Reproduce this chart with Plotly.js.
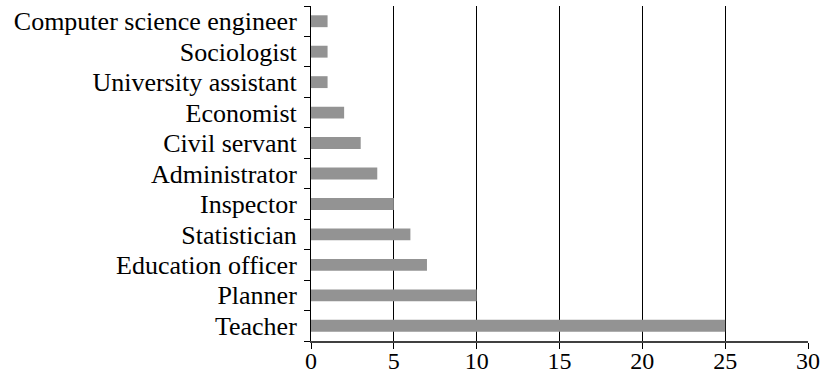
<!DOCTYPE html>
<html><head><meta charset="utf-8">
<script src="https://cdn.plot.ly/plotly-3.0.1.min.js"></script>
<style>html,body{margin:0;padding:0;background:#fff;}#chart{width:828px;height:376px;}</style>
</head><body><div id="chart"></div>
<script>
const categories = ["Computer science engineer","Sociologist","University assistant","Economist","Civil servant","Administrator","Inspector","Statistician","Education officer","Planner","Teacher"];
const counts = [1,1,1,2,3,4,5,6,7,10,25];
const xTicks = [0,5,10,15,20,25,30];

const trace = {
  type: 'bar', orientation: 'h',
  x: counts, y: categories,
  marker: {color: '#939393', line: {width: 0}},
  hoverinfo: 'none'
};
const layout = {
  width: 828, height: 376,
  margin: {l: 311, r: 20, t: 6, b: 35},
  paper_bgcolor: '#fff', plot_bgcolor: '#fff',
  font: {family: 'Liberation Serif', size: 26, color: '#000'},
  bargap: 0.61,
  showlegend: false,
  xaxis: {
    range: [0, 30], tickmode: 'array', tickvals: xTicks, ticktext: xTicks.map(String),
    tickfont: {family: 'Liberation Serif', size: 24, color: '#000'},
    showgrid: true, gridcolor: '#000', gridwidth: 1,
    showline: true, linecolor: '#404040', linewidth: 1.5,
    ticks: 'outside', ticklen: 6, tickcolor: '#000', tickwidth: 1,
    ticklabelstandoff: -8,
    zeroline: false, fixedrange: true
  },
  yaxis: {
    autorange: 'reversed', type: 'category',
    tickmode: 'array', tickvals: categories, ticktext: categories,
    showgrid: false, showline: true, linecolor: '#000', linewidth: 1,
    ticks: 'outside', tickson: 'boundaries', ticklen: 6, tickcolor: '#000', tickwidth: 1,
    ticklabelstandoff: 8,
    zeroline: false, fixedrange: true
  }
};
Plotly.newPlot('chart', [trace], layout, {staticPlot: true});
</script>
</body></html>
